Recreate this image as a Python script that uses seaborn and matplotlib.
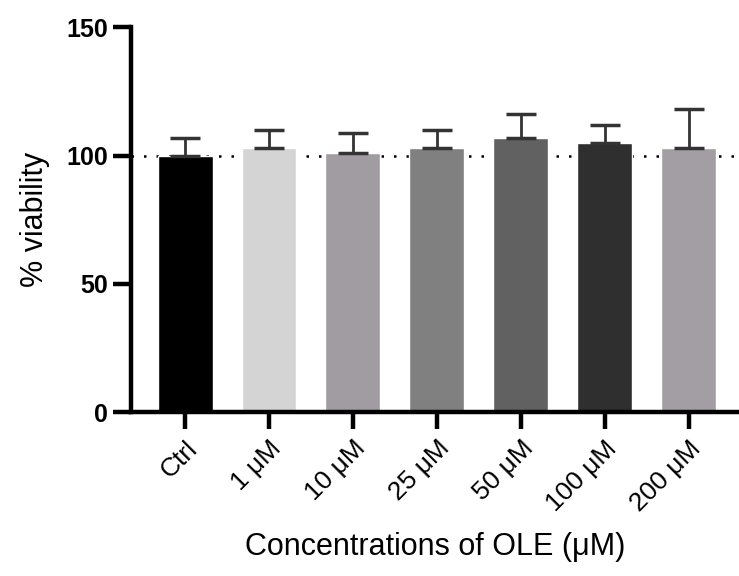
import seaborn as sns
import pandas as pd
import matplotlib.pyplot as plt

grupos = ['Ctrl', '1 μM', '10 μM', '25 μM', '50 μM', '100 μM', '200 μM']
viabilidade = [100.0, 102.9, 100.9, 103.1, 107.0, 104.8, 103.1]
desvio = [7.0, 7.1, 7.8, 6.8, 9.3, 7.1, 15.1]
cores = ['#000000', '#d4d4d4', '#a19ca1', '#808080', '#616161', '#2f2f2f', '#a39ea3']

base = pd.DataFrame({'grupo': grupos, 'viabilidade': viabilidade, 'desvio': desvio})

sns.set_style('ticks')
plt.rcParams['font.family'] = ['Liberation Sans', 'DejaVu Sans']
plt.rcParams['text.color'] = 'black'
plt.rcParams['axes.labelcolor'] = 'black'

fig = plt.figure(figsize=(7.39, 5.76), dpi=100)
ax = fig.add_axes([0.1766, 0.2847, 0.8234, 0.6676])

ax.axhline(100, color='black', linestyle=(0, (1, 4)), linewidth=1.8, zorder=0)
sns.barplot(x='grupo', y='viabilidade', data=base, hue='grupo', palette=cores,
            legend=False, errorbar=None, width=0.655, saturation=1, ax=ax, zorder=2)
ax.errorbar(range(len(grupos)), base['viabilidade'],
            yerr=[[0] * len(grupos), base['desvio']], fmt='none',
            ecolor='#333333', elinewidth=2, capsize=10.5, capthick=2.5, zorder=3)

ax.set_ylim(0, 150)
ax.set_yticks([0, 50, 100, 150])
ax.set_xlim(-0.65, 6.6)
sns.despine(ax=ax)
for lado in ['left', 'bottom']:
    ax.spines[lado].set_linewidth(3.2)
    ax.spines[lado].set_color('black')
ax.tick_params(axis='y', length=13, width=3.2, labelsize=18, pad=3,
               color='black', labelcolor='black')
ax.tick_params(axis='x', length=12.5, width=3.2, labelsize=19, pad=5,
               color='black', labelcolor='black')
for t in ax.get_yticklabels():
    t.set_fontweight('bold')
plt.setp(ax.get_xticklabels(), rotation=45, ha='right', rotation_mode='anchor')

ax.set_ylabel('% viability', fontsize=22, labelpad=12)
ax.set_xlabel('Concentrations of OLE (μM)', fontsize=22, labelpad=12)

plt.savefig('out.png', dpi=100)
